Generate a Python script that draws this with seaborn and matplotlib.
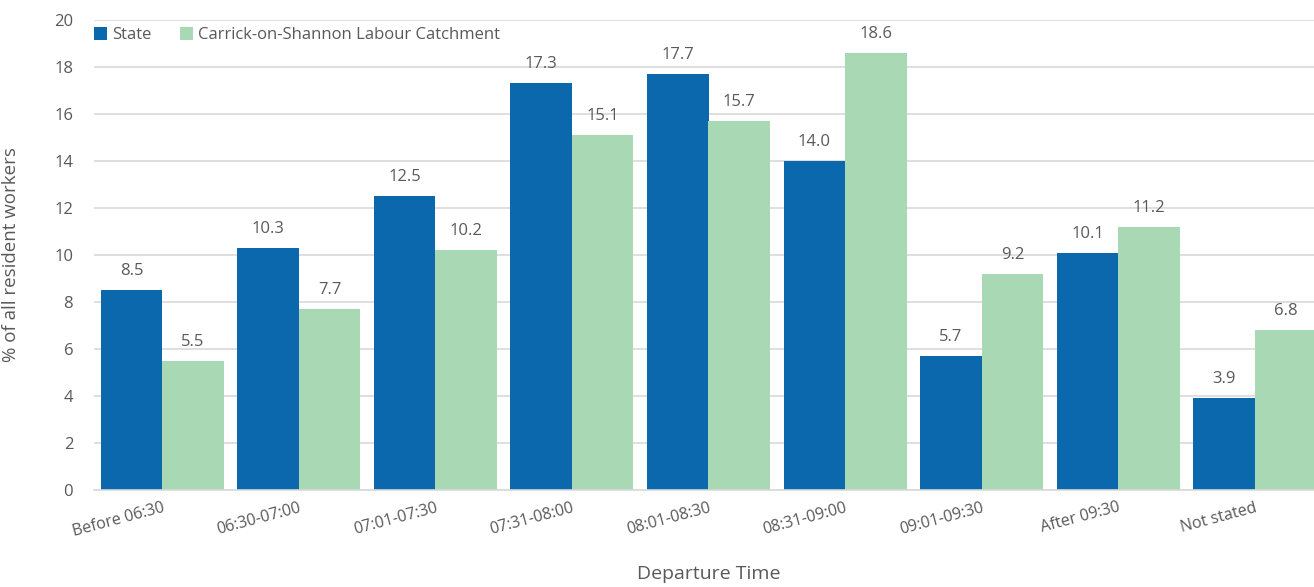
import numpy as np
import pandas as pd
import matplotlib
matplotlib.use("Agg")
import matplotlib.pyplot as plt
import seaborn as sns

# Chart data.
departure_times = ["Before 06:30", "06:30-07:00", "07:01-07:30", "07:31-08:00", "08:01-08:30",
                   "08:31-09:00", "09:01-09:30", "After 09:30", "Not stated"]
state_pct = [8.5, 10.3, 12.5, 17.3, 17.7, 14.0, 5.7, 10.1, 3.9]
catchment_pct = [5.5, 7.7, 10.2, 15.1, 15.7, 18.6, 9.2, 11.2, 6.8]
series_names = ["State", "Carrick-on-Shannon Labour Catchment"]
y_ticks = [0, 2, 4, 6, 8, 10, 12, 14, 16, 18, 20]

df = pd.DataFrame({
    "time": departure_times * 2,
    "pct": state_pct + catchment_pct,
    "area": [series_names[0]] * len(departure_times) + [series_names[1]] * len(departure_times),
})

sns.set_style("white")
plt.rcParams['font.family'] = ['Open Sans', 'DejaVu Sans']
text_grey = "#595959"
grid_grey = "#D9D9D9"
colours = ["#0B68AC", "#A9D8B4"]

fig = plt.figure(figsize=(13.14, 5.87), dpi=100)
ax = fig.add_axes([94/1314, 97/587, 1229/1314, 470/587])

sns.barplot(data=df, x="time", y="pct", hue="area", palette=colours, width=0.9,
            saturation=1, linewidth=0, ax=ax, order=departure_times, hue_order=series_names)

#Value labels above each bar.
for cont in ax.containers:
    ax.bar_label(cont, fmt="%.1f", padding=8, fontsize=12, color=text_grey)

ax.set_ylim(0, 20)
ax.set_xlim(-0.5, len(departure_times) - 0.5)
ax.set_yticks(y_ticks)
ax.yaxis.grid(True, color=grid_grey, linewidth=1.2)
ax.set_axisbelow(True)
for s in ["top", "right", "left"]:
    ax.spines[s].set_visible(False)
ax.spines["bottom"].set_color(grid_grey)
ax.spines["bottom"].set_linewidth(1.2)

ax.tick_params(axis="y", length=0, pad=15, labelsize=12, labelcolor=text_grey)
ax.tick_params(axis="x", length=0, pad=7, labelsize=11.5, labelcolor=text_grey)
plt.setp(ax.get_xticklabels(), rotation=15, ha="right", va="top", rotation_mode="anchor")

ax.set_xlabel("Departure Time", fontsize=14, color=text_grey)
ax.set_ylabel("% of all resident workers", fontsize=13.5, color=text_grey)
ax.xaxis.set_label_coords(0.5, -0.16)
ax.yaxis.set_label_coords(-0.0602, 0.5)

handles, labels = ax.get_legend_handles_labels()
ax.legend(handles, labels, loc="center left", bbox_to_anchor=(0.0, 0.968), ncol=2,
          frameon=False, borderaxespad=0, borderpad=0, fontsize=12,
          handlelength=0.8, handleheight=0.8, handletextpad=0.3, columnspacing=1.7,
          labelcolor=text_grey)

fig.savefig("out.png", dpi=100)
